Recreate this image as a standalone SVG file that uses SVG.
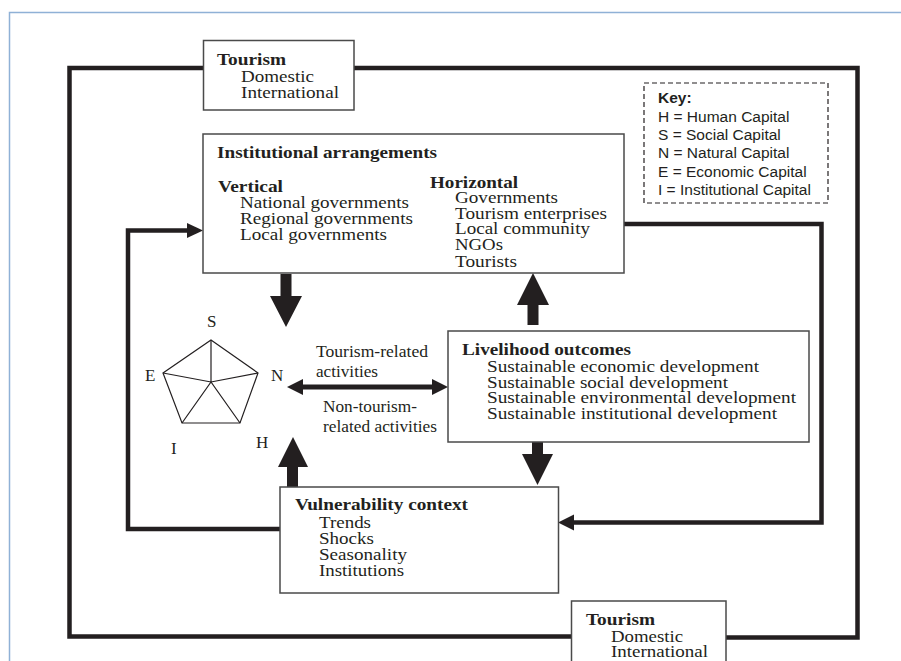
<svg xmlns="http://www.w3.org/2000/svg" width="901" height="661" viewBox="0 0 901 661">
<style>
.box{fill:#fff;stroke:#4a4a4a;stroke-width:1.5}
.t{font-family:"Liberation Serif","Times New Roman",serif;font-size:17px;fill:#231f20}
.b{font-weight:bold}
.k{font-family:"Liberation Sans",Arial,sans-serif;font-size:15.5px;fill:#231f20}
.ln{fill:none;stroke:#231f20;stroke-width:4.5;stroke-linejoin:miter}
.ah{fill:#231f20}
.pent{fill:none;stroke:#231f20;stroke-width:1.2;stroke-linejoin:miter}
</style>
<rect x="0" y="0" width="901" height="661" fill="#fff"/>
<rect x="9.5" y="12.5" width="920" height="700" fill="none" stroke="#8fb1d6" stroke-width="1.5"/>

<g id="connectors">
  <polyline class="ln" points="204,68 69.5,68 69.5,636.5 572,636.5"/>
  <polyline class="ln" points="726,637.5 857.5,637.5 857.5,68 354,68"/>
  <polyline class="ln" points="624,224 821.5,224 821.5,522.5 572,522.5"/>
  <polygon class="ah" points="558,522.5 574,514.5 574,530.5"/>
  <polyline class="ln" points="280,529 128,529 128,230.5 190,230.5"/>
  <polygon class="ah" points="203,230.5 187,223 187,238"/>
  <polygon class="ah" points="280.5,274 291.5,274 291.5,296 302,296 286,327 270,296 280.5,296"/>
  <polygon class="ah" points="527.5,325 538.5,325 538.5,305 549,305 533,273 517,305 527.5,305"/>
  <polygon class="ah" points="532,442 543,442 543,454 553,454 537.5,485 522,454 532,454"/>
  <polygon class="ah" points="287,487 298,487 298,467 308,467 293,437 278,467 287,467"/>
  <line x1="300" y1="387" x2="435" y2="387" stroke="#231f20" stroke-width="5"/>
  <polygon class="ah" points="287,387 303,379 303,395"/>
  <polygon class="ah" points="448,387 432,379 432,395"/>
</g>

<g id="tourism-top">
  <rect class="box" x="203.5" y="40.5" width="150.5" height="69.5"/>
  <text class="t b" x="217" y="65" textLength="69" lengthAdjust="spacingAndGlyphs">Tourism</text>
  <text class="t" x="241" y="82" textLength="73" lengthAdjust="spacingAndGlyphs">Domestic</text>
  <text class="t" x="241" y="98" textLength="98" lengthAdjust="spacingAndGlyphs">International</text>
</g>

<g id="tourism-bottom">
  <rect class="box" x="571.5" y="601" width="154.5" height="80"/>
  <text class="t b" x="586" y="625" textLength="69" lengthAdjust="spacingAndGlyphs">Tourism</text>
  <text class="t" x="611" y="642" textLength="72" lengthAdjust="spacingAndGlyphs">Domestic</text>
  <text class="t" x="611" y="657" textLength="97" lengthAdjust="spacingAndGlyphs">International</text>
</g>

<g id="key">
  <rect x="644" y="83" width="184" height="120" fill="#fff" stroke="#231f20" stroke-width="1.2" stroke-dasharray="5,3"/>
  <text class="k b" x="658" y="103">Key:</text>
  <text class="k" x="658" y="122">H = Human Capital</text>
  <text class="k" x="658" y="140">S = Social Capital</text>
  <text class="k" x="658" y="158">N = Natural Capital</text>
  <text class="k" x="658" y="177">E = Economic Capital</text>
  <text class="k" x="658" y="195">I = Institutional Capital</text>
</g>

<g id="institutional">
  <rect class="box" x="203" y="134" width="421" height="139"/>
  <text class="t b" x="217" y="158" textLength="220" lengthAdjust="spacingAndGlyphs">Institutional arrangements</text>
  <text class="t b" x="218" y="192" textLength="65" lengthAdjust="spacingAndGlyphs">Vertical</text>
  <text class="t" x="240" y="208" textLength="169" lengthAdjust="spacingAndGlyphs">National governments</text>
  <text class="t" x="240" y="224" textLength="173" lengthAdjust="spacingAndGlyphs">Regional governments</text>
  <text class="t" x="240" y="240" textLength="147" lengthAdjust="spacingAndGlyphs">Local governments</text>
  <text class="t b" x="430" y="188" textLength="88" lengthAdjust="spacingAndGlyphs">Horizontal</text>
  <text class="t" x="455" y="203" textLength="103" lengthAdjust="spacingAndGlyphs">Governments</text>
  <text class="t" x="455" y="219" textLength="152" lengthAdjust="spacingAndGlyphs">Tourism enterprises</text>
  <text class="t" x="455" y="234" textLength="135" lengthAdjust="spacingAndGlyphs">Local community</text>
  <text class="t" x="455" y="250" textLength="48" lengthAdjust="spacingAndGlyphs">NGOs</text>
  <text class="t" x="455" y="267" textLength="62" lengthAdjust="spacingAndGlyphs">Tourists</text>
</g>

<g id="livelihood">
  <rect class="box" x="448" y="331" width="361" height="111"/>
  <text class="t b" x="462" y="355" textLength="169" lengthAdjust="spacingAndGlyphs">Livelihood outcomes</text>
  <text class="t" x="487" y="372" textLength="272" lengthAdjust="spacingAndGlyphs">Sustainable economic development</text>
  <text class="t" x="487" y="388" textLength="241" lengthAdjust="spacingAndGlyphs">Sustainable social development</text>
  <text class="t" x="487" y="403" textLength="309" lengthAdjust="spacingAndGlyphs">Sustainable environmental development</text>
  <text class="t" x="487" y="419" textLength="290" lengthAdjust="spacingAndGlyphs">Sustainable institutional development</text>
</g>

<g id="vulnerability">
  <rect class="box" x="280" y="487" width="278.5" height="106"/>
  <text class="t b" x="295" y="510" textLength="173" lengthAdjust="spacingAndGlyphs">Vulnerability context</text>
  <text class="t" x="319" y="528" textLength="52" lengthAdjust="spacingAndGlyphs">Trends</text>
  <text class="t" x="319" y="544" textLength="55" lengthAdjust="spacingAndGlyphs">Shocks</text>
  <text class="t" x="319" y="560" textLength="88" lengthAdjust="spacingAndGlyphs">Seasonality</text>
  <text class="t" x="319" y="576" textLength="85" lengthAdjust="spacingAndGlyphs">Institutions</text>
</g>

<g id="pentagon">
  <polygon class="pent" points="211,340 258,373 240,423 182,423 163,373"/>
  <polyline class="pent" points="211,340 211,382"/>
  <polyline class="pent" points="163,373 211,382 258,373"/>
  <polyline class="pent" points="182,423 211,382 240,423"/>
  <text class="t" x="207" y="327" font-size="18">S</text>
  <text class="t" x="145" y="381" font-size="18">E</text>
  <text class="t" x="271" y="381" font-size="18">N</text>
  <text class="t" x="171" y="454" font-size="18">I</text>
  <text class="t" x="256" y="448" font-size="18">H</text>
</g>

<g id="activities">
  <text class="t" x="316" y="357" textLength="112" lengthAdjust="spacingAndGlyphs">Tourism-related</text>
  <text class="t" x="316" y="377" textLength="62" lengthAdjust="spacingAndGlyphs">activities</text>
  <text class="t" x="323" y="412" textLength="94" lengthAdjust="spacingAndGlyphs">Non-tourism-</text>
  <text class="t" x="323" y="432" textLength="114" lengthAdjust="spacingAndGlyphs">related activities</text>
</g>
</svg>
